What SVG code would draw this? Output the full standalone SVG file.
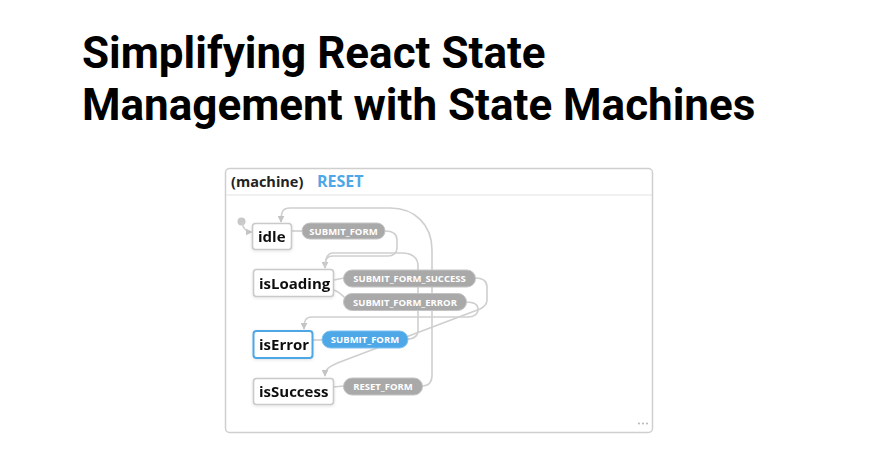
<svg xmlns="http://www.w3.org/2000/svg" width="879" height="462" viewBox="0 0 879 462">
<style>
.title{font-family:Roboto,"Liberation Sans",sans-serif;font-weight:700;font-size:44px;fill:#000}
.hdr{font-family:"Open Sans","DejaVu Sans",sans-serif;font-weight:700}
.node rect{fill:#fff;stroke:#c9c9c9;stroke-width:1.6}
.node text{font-family:"Open Sans","DejaVu Sans",sans-serif;font-weight:700;font-size:15px;fill:#111}
.pill rect{fill:#a9a9a9;stroke:#c4c4c4;stroke-width:1}
.pill text{font-family:"Open Sans","DejaVu Sans",sans-serif;font-weight:700;font-size:9.5px;fill:#fff;text-anchor:middle}
.edge{fill:none;stroke:#cfcfcf;stroke-width:1.6}
</style>
<defs>
<marker id="ah" viewBox="0 0 10 10" refX="9" refY="5" markerWidth="7" markerHeight="7" orient="auto" markerUnits="userSpaceOnUse">
<path d="M0,0 L10,5 L0,10 z" fill="#c4c4c4"/>
</marker>
<filter id="sh" x="-20%" y="-20%" width="140%" height="150%">
<feDropShadow dx="0" dy="1" stdDeviation="1.5" flood-color="#000" flood-opacity="0.12"/>
</filter>
</defs>
<rect width="879" height="462" fill="#fff"/>
<text class="title" x="82" y="68">Simplifying React State</text>
<text class="title" x="82" y="120">Management with State Machines</text>

<g id="panel">
<rect x="225.5" y="168.5" width="427" height="264" rx="4" fill="#fff" stroke="#cfcfcf" stroke-width="1.5"/>
<line x1="226" y1="195" x2="652" y2="195" stroke="#e2e2e2" stroke-width="1.2"/>
<text class="hdr" x="231" y="187" fill="#222" font-size="14.5">(machine)</text>
<text class="hdr" x="317" y="187" fill="#4ea7e6" font-size="16">RESET</text>
<circle cx="639" cy="423.5" r="1.1" fill="#bbb"/>
<circle cx="643" cy="423.5" r="1.1" fill="#bbb"/>
<circle cx="647" cy="423.5" r="1.1" fill="#bbb"/>
</g>

<g id="connectors">
<circle cx="241.5" cy="221.5" r="4" fill="#c8c8c8"/>
<path class="edge" d="M242,222 C243,229 246,232 252,232" marker-end="url(#ah)"/>
<path class="edge" d="M291,231 L302,231"/>
<path class="edge" d="M385,231 C393,231 397,234 397,240 L397,248 C397,253 393,256 388,256 L333,256 C327,256 325,259 325,268" marker-end="url(#ah)"/>
<path class="edge" d="M407,339 C414,339 418,336 418,330 L418,266 C418,257 411,253 402,253 L333,253 C327,253 325,258 325,268"/>
<path class="edge" d="M334,280 L344,278"/>
<path class="edge" d="M334,290 C340,292 344,297 348,301"/>
<path class="edge" d="M475,278 C483,278 487,281 487,287 L487,300 C487,305 484,307 480,309 L340,362 C331,366 325,368 325,376" marker-end="url(#ah)"/>
<path class="edge" d="M466,302 C474,302 478,305 478,309 C478,314 474,317 468,317 L312,317 C306,317 304,320 304,329" marker-end="url(#ah)"/>
<path class="edge" d="M313,340 L322,340"/>
<path class="edge" d="M333,387 L344,386"/>
<path class="edge" d="M422,386 C429,386 432,382 432,375 L432,250 C432,225 415,208 390,208 L290,208 C283,208 281,211 281,222" marker-end="url(#ah)"/>
</g>

<g id="idle" class="node" filter="url(#sh)">
<rect x="252.5" y="223.5" width="39" height="26" rx="3"/>
<text x="258" y="242">idle</text>
</g>
<g id="isLoading" class="node" filter="url(#sh)">
<rect x="253.5" y="269.5" width="80" height="27" rx="3"/>
<text x="259" y="289">isLoading</text>
</g>
<g id="isError" class="node" filter="url(#sh)">
<rect x="253.5" y="331" width="59" height="27" rx="3" style="stroke:#4ea7e6;stroke-width:2"/>
<text x="259" y="350">isError</text>
</g>
<g id="isSuccess" class="node" filter="url(#sh)">
<rect x="253.5" y="378.5" width="80" height="26" rx="3"/>
<text x="259" y="397">isSuccess</text>
</g>

<g id="ev-idle-submit" class="pill">
<rect x="302" y="223" width="83" height="16" rx="8"/>
<text x="343.5" y="234.5">SUBMIT_FORM</text>
</g>
<g id="ev-success" class="pill">
<rect x="343.5" y="270" width="132" height="17" rx="8.5"/>
<text x="409.5" y="282">SUBMIT_FORM_SUCCESS</text>
</g>
<g id="ev-error" class="pill">
<rect x="343.5" y="293.5" width="123" height="17" rx="8.5"/>
<text x="405" y="305.5">SUBMIT_FORM_ERROR</text>
</g>
<g id="ev-error-submit" class="pill">
<rect x="322" y="331" width="86" height="17" rx="8.5" style="fill:#4ea7e6;stroke:#7cc0ef"/>
<text x="365" y="343">SUBMIT_FORM</text>
</g>
<g id="ev-reset" class="pill">
<rect x="343.5" y="378" width="79" height="17" rx="8.5"/>
<text x="383" y="390">RESET_FORM</text>
</g>
</svg>
